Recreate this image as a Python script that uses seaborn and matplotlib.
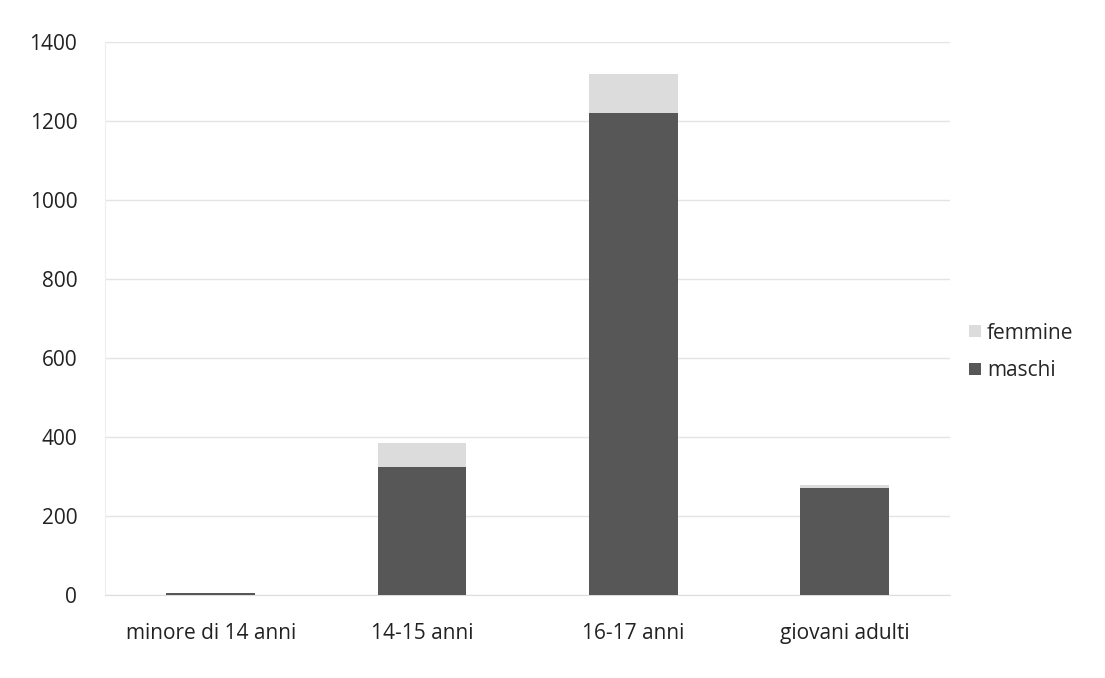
import pandas as pd
import matplotlib
matplotlib.use("Agg")
import matplotlib.pyplot as plt
import seaborn as sns
from matplotlib.patches import Patch

categories = ["minore di 14 anni", "14-15 anni", "16-17 anni", "giovani adulti"]
maschi = [6, 325, 1220, 272]
femmine = [0, 60, 100, 8]
y_ticks = [0, 200, 400, 600, 800, 1000, 1200, 1400]

DARK = "#575757"
LIGHT = "#dcdcdc"


def plot_stacked(df):
    """ Stacked bars: maschi at the bottom, femmine on top. """
    sns.set_style("white")
    plt.rcParams['font.family'] = ['Open Sans', 'DejaVu Sans']

    fig = plt.figure(figsize=(11.05, 6.78), dpi=100)
    ax = fig.add_axes([0.095, 0.122, 0.765, 0.816])

    # total first (light), then maschi drawn over it
    sns.barplot(data=df, x='categoria', y='totale', color=LIGHT, width=0.42,
                saturation=1, linewidth=0, ax=ax, zorder=2)
    sns.barplot(data=df, x='categoria', y='maschi', color=DARK, width=0.42,
                saturation=1, linewidth=0, ax=ax, zorder=3)

    ax.set_ylim(0, 1400)
    ax.set_xlim(-0.5, 3.5)
    ax.set_yticks(y_ticks)
    ax.set_yticklabels([str(t) for t in y_ticks])
    ax.yaxis.grid(True, color='#e4e4e4', linewidth=1)
    ax.set_axisbelow(True)
    ax.tick_params(axis='both', length=0, labelsize=15, colors='#222222')
    ax.tick_params(axis='x', pad=20)
    ax.tick_params(axis='y', pad=20)
    ax.set_xlabel('')
    ax.set_ylabel('')
    for side in ['top', 'right']:
        ax.spines[side].set_visible(False)
    ax.spines['left'].set_color('#eeeeee')
    ax.spines['bottom'].set_color('#dddddd')

    handles = [Patch(facecolor=LIGHT, edgecolor='none', label='femmine'),
               Patch(facecolor=DARK, edgecolor='none', label='maschi')]
    ax.legend(handles=handles, loc='center left', bbox_to_anchor=(1.0, 0.44),
              frameon=False, fontsize=15, handlelength=0.55, handleheight=0.55,
              handletextpad=0.3, labelspacing=0.8)

    fig.savefig('out.png', dpi=100)


def main():
    df = pd.DataFrame({'categoria': categories, 'maschi': maschi, 'femmine': femmine})
    df['totale'] = df['maschi'] + df['femmine']
    plot_stacked(df)


if __name__ == "__main__":
    main()
